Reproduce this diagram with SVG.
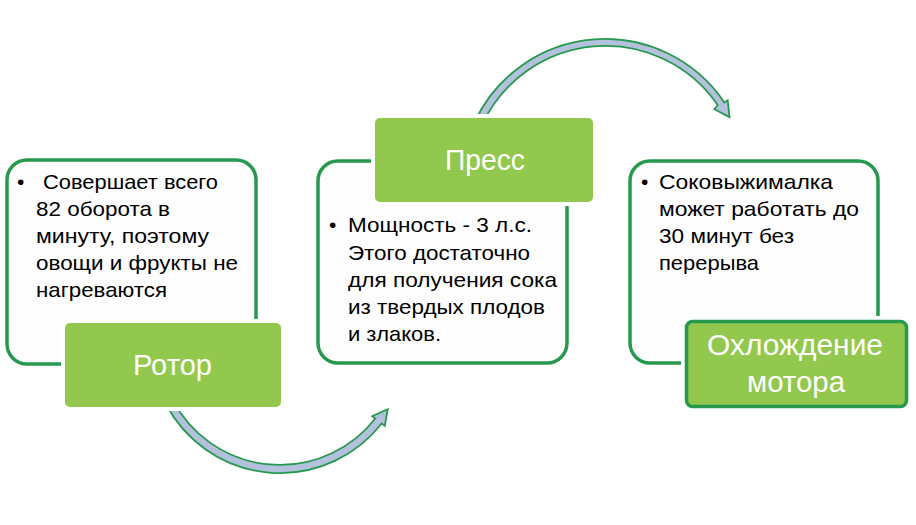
<svg xmlns="http://www.w3.org/2000/svg" width="916" height="525" viewBox="0 0 916 525">
<style>
.box{fill:#fdfdfd;stroke:#27994f;stroke-width:3.5}
.lbl{fill:#92c84d}
.halo{fill:#ffffff}
.lbl2{fill:#92c84d;stroke:#27994f;stroke-width:3.5}
.arr{fill:#b3c1dd;stroke:#27994f;stroke-width:1.8;stroke-linejoin:miter}
.t{font-family:"Liberation Sans",Arial,sans-serif;font-size:21px;fill:#000}
.h{font-family:"Liberation Sans",Arial,sans-serif;font-size:29px;fill:#fff;text-anchor:middle}
</style>
<rect width="916" height="525" fill="#ffffff"/>
<g id="connectors">
<path class="arr" d="M166.1 404.5 A129 129 0 0 0 381.7 423.5 L384.8 425.9 L387.7 409.2 L372.2 416.1 L375.3 418.5 A121 121 0 0 1 173.2 400.8 Z"/>
<path class="arr" d="M474.5 122.1 A144 144 0 0 1 724.4 102.5 L727.7 100.3 L729.5 117.1 L714.4 109.2 L717.7 105.0 A136 136 0 0 0 481.8 125.5 Z"/>
</g>
<g id="node-rotor">
<rect class="box" x="7" y="160" width="249" height="204" rx="20"/>
<text class="t"><tspan x="17" y="189">•</tspan><tspan x="43" y="189" textLength="175" lengthAdjust="spacingAndGlyphs">Совершает всего</tspan><tspan x="36" y="216" textLength="134" lengthAdjust="spacingAndGlyphs">82 оборота в</tspan><tspan x="36" y="243" textLength="173" lengthAdjust="spacingAndGlyphs">минуту, поэтому</tspan><tspan x="36" y="270" textLength="202" lengthAdjust="spacingAndGlyphs">овощи и фрукты не</tspan><tspan x="36" y="297" textLength="131" lengthAdjust="spacingAndGlyphs">нагреваются</tspan></text>
<rect class="halo" x="61" y="319" width="224" height="92" rx="7"/>
<rect class="lbl" x="65" y="323" width="216" height="84" rx="5"/>
<text class="h" x="172.5" y="375" textLength="79" lengthAdjust="spacingAndGlyphs">Ротор</text>
</g>
<g id="node-press">
<rect class="box" x="318" y="161" width="249" height="202" rx="20"/>
<text class="t"><tspan x="329" y="232">•</tspan><tspan x="348" y="232" textLength="184" lengthAdjust="spacingAndGlyphs">Мощность - 3 л.с.</tspan><tspan x="348" y="259.5" textLength="182" lengthAdjust="spacingAndGlyphs">Этого достаточно</tspan><tspan x="348" y="287" textLength="209" lengthAdjust="spacingAndGlyphs">для получения сока</tspan><tspan x="348" y="314" textLength="197" lengthAdjust="spacingAndGlyphs">из твердых плодов</tspan><tspan x="348" y="341" textLength="93" lengthAdjust="spacingAndGlyphs">и злаков.</tspan></text>
<rect class="halo" x="371" y="114" width="226" height="92" rx="7"/>
<rect class="lbl" x="375" y="118" width="218" height="84" rx="5"/>
<text class="h" x="485" y="170" textLength="80" lengthAdjust="spacingAndGlyphs">Пресс</text>
</g>
<g id="node-cooling">
<rect class="box" x="630" y="161" width="248" height="202" rx="20"/>
<text class="t"><tspan x="641" y="189">•</tspan><tspan x="659" y="189" textLength="174" lengthAdjust="spacingAndGlyphs">Соковыжималка</tspan><tspan x="659" y="216" textLength="200" lengthAdjust="spacingAndGlyphs">может работать до</tspan><tspan x="659" y="243" textLength="135" lengthAdjust="spacingAndGlyphs">30 минут без</tspan><tspan x="659" y="270" textLength="100" lengthAdjust="spacingAndGlyphs">перерыва</tspan></text>
<rect class="halo" x="681" y="316" width="231" height="96" rx="8"/>
<rect class="lbl2" x="686.5" y="321.5" width="220" height="85" rx="6"/>
<text class="h" x="795" y="355" textLength="176" lengthAdjust="spacingAndGlyphs">Охлождение</text>
<text class="h" x="796" y="392" textLength="98" lengthAdjust="spacingAndGlyphs">мотора</text>
</g>
</svg>
